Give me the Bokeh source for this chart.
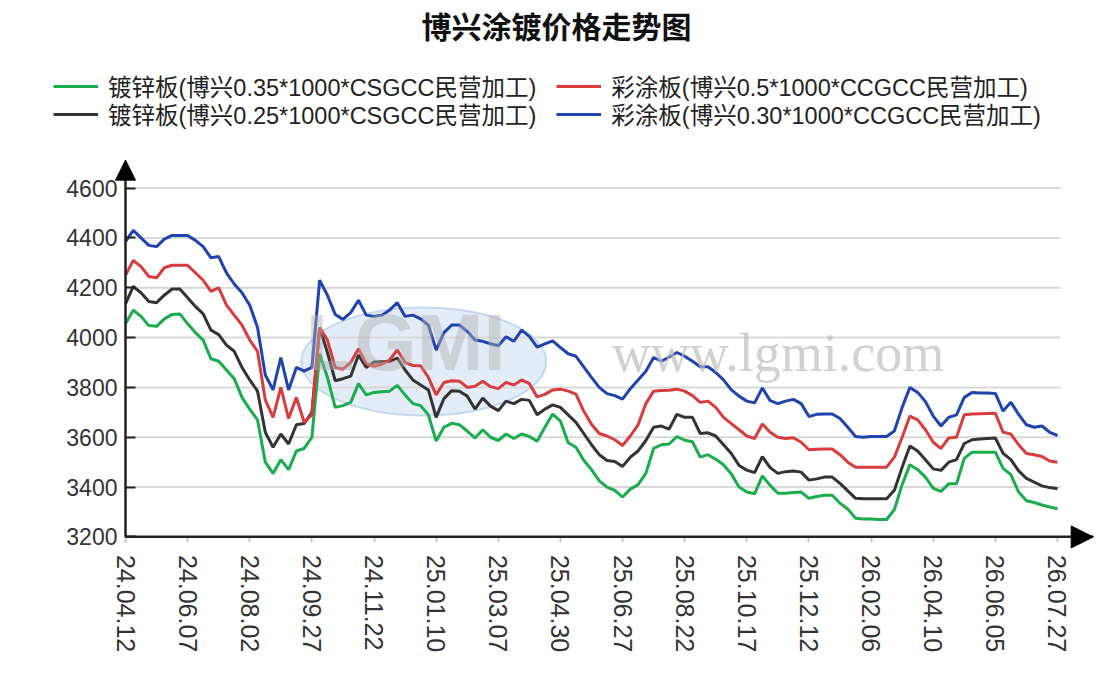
from bokeh.plotting import figure
from bokeh.models import FixedTicker, Legend, LegendItem, Arrow, NormalHead, Label
from bokeh.embed import file_html
from bokeh.resources import INLINE

title_text = "博兴涂镀价格走势图"
series_names = [
    "镀锌板(博兴0.35*1000*CSGCC民营加工)",
    "彩涂板(博兴0.5*1000*CCGCC民营加工)",
    "镀锌板(博兴0.25*1000*CSGCC民营加工)",
    "彩涂板(博兴0.30*1000*CCGCC民营加工)",
]
series_colors = ["#19ad4c", "#d93c3c", "#333333", "#1f44b0"]
tick_labels = ["24.04.12", "24.06.07", "24.08.02", "24.09.27", "24.11.22", "25.01.10",
               "25.03.07", "25.04.30", "25.06.27", "25.08.22", "25.10.17", "25.12.12",
               "26.02.06", "26.04.10", "26.06.05", "26.07.27"]
tick_step = 40      # data points between labelled dates
sample_step = 5     # data points between sampled values
y_ticks = [3200, 3400, 3600, 3800, 4000, 4200, 4400, 4600]

galv_035 = [4055, 4110, 4085, 4048, 4045, 4075, 4093, 4095, 4055, 4020,
            3990, 3915, 3905, 3870, 3835, 3760, 3712, 3670, 3500, 3455,
            3510, 3470, 3545, 3555, 3600, 3935, 3840, 3720, 3727, 3740,
            3815, 3770, 3780, 3783, 3785, 3808, 3770, 3735, 3727, 3690,
            3585, 3640, 3656, 3650, 3625, 3597, 3630, 3600, 3587, 3613,
            3595, 3613, 3603, 3584, 3640, 3693, 3665, 3578, 3560, 3508,
            3470, 3425, 3400, 3387, 3360, 3392, 3410, 3455, 3555, 3570,
            3573, 3603, 3588, 3582, 3520, 3530, 3512, 3490, 3453, 3400,
            3380, 3373, 3445, 3407, 3375, 3375, 3378, 3380, 3355, 3362,
            3367, 3367, 3335, 3312, 3275, 3272, 3272, 3270, 3270, 3310,
            3410, 3490, 3470, 3440, 3395, 3383, 3413, 3413, 3515, 3540,
            3540, 3540, 3540, 3475, 3450, 3380, 3345, 3338, 3328, 3320,
            3313]
galv_025 = [4135, 4205, 4180, 4145, 4140, 4170, 4195, 4195, 4160, 4125,
            4095, 4030, 4012, 3970, 3945, 3880, 3830, 3785, 3620, 3560,
            3613, 3573, 3650, 3655, 3700, 4040, 3940, 3827, 3835, 3845,
            3930, 3880, 3902, 3903, 3904, 3918, 3870, 3830, 3810, 3790,
            3680, 3755, 3787, 3785, 3765, 3713, 3757, 3725, 3707, 3745,
            3735, 3752, 3748, 3690, 3713, 3730, 3720, 3690, 3660, 3615,
            3570, 3530, 3507, 3503, 3483, 3520, 3545, 3587, 3640, 3645,
            3633, 3692, 3680, 3680, 3615, 3618, 3605, 3570, 3535, 3487,
            3468, 3458, 3522, 3478, 3455, 3462, 3465, 3460, 3428, 3433,
            3440, 3440, 3415, 3385, 3355, 3353, 3353, 3353, 3353, 3387,
            3480, 3565, 3545, 3510, 3473, 3467, 3500, 3510, 3575, 3590,
            3593, 3595, 3597, 3535, 3510, 3465, 3435, 3420, 3405, 3398,
            3393]
color_05 = [4250, 4310, 4285, 4245, 4240, 4280, 4290, 4290, 4290, 4260,
            4230, 4185, 4200, 4130, 4090, 4050, 3990, 3945, 3750, 3680,
            3800, 3675, 3760, 3660, 3690, 4040, 3990, 3880, 3873, 3900,
            3955, 3895, 3885, 3893, 3910, 3950, 3900, 3888, 3887, 3840,
            3770, 3820, 3827, 3825, 3800, 3805, 3825, 3803, 3795, 3820,
            3810, 3830, 3815, 3762, 3772, 3790, 3793, 3785, 3773, 3705,
            3652, 3615, 3605, 3590, 3567, 3605, 3650, 3735, 3785, 3788,
            3789, 3793, 3785, 3767, 3740, 3745, 3720, 3680, 3655, 3630,
            3605, 3595, 3653, 3620, 3600, 3595, 3598, 3580, 3550, 3552,
            3553, 3553, 3530, 3500, 3480, 3480, 3480, 3480, 3480, 3520,
            3600, 3685, 3670, 3630, 3580, 3555, 3597, 3600, 3690, 3693,
            3694, 3695, 3696, 3620, 3613, 3570, 3535, 3530, 3523, 3505,
            3500]
color_030 = [4385, 4430, 4400, 4370, 4365, 4395, 4410, 4410, 4410, 4390,
             4365, 4320, 4325, 4260, 4215, 4180, 4130, 4040, 3850, 3790,
             3920, 3790, 3880, 3865, 3880, 4230, 4170, 4093, 4073, 4100,
             4150, 4090, 4085, 4090, 4110, 4140, 4085, 4090, 4075, 4050,
             3950, 4020, 4050, 4050, 4025, 3990, 3985, 3975, 3967, 4003,
             3985, 4030, 4005, 3962, 3975, 3987, 3960, 3935, 3925, 3882,
             3840, 3800, 3775, 3767, 3753, 3795, 3830, 3865, 3920, 3905,
             3922, 3940, 3925, 3905, 3883, 3883, 3860, 3830, 3790, 3765,
             3745, 3738, 3798, 3747, 3735, 3745, 3752, 3735, 3683, 3692,
             3693, 3693, 3675, 3640, 3603, 3600, 3603, 3603, 3603, 3625,
             3720, 3800, 3780, 3743, 3685, 3645, 3680, 3690, 3760, 3780,
             3778, 3778, 3776, 3705, 3740, 3692, 3650, 3640, 3645, 3620,
             3607]

xs = [i * sample_step for i in range(len(galv_035))]
x_last = xs[-1]
y_top = 4712        # end of the value axis (arrow tip)
x_arrow = 623       # end of the category axis (arrow tip)

LATIN_CJK = "'Liberation Sans', 'Noto Sans CJK SC'"

# frame spans nearly the whole canvas; axes are pinned inside it
p = figure(width=1100, height=680, output_backend="svg", toolbar_location=None,
           x_range=(-54.72, 627.7), y_range=(2656, 5168),
           min_border_left=40, min_border_right=0, min_border_top=44, min_border_bottom=8)
p.outline_line_color = None
p.background_fill_color = "white"
p.xgrid.visible = False
p.ygrid.visible = False

p.title.text = title_text
p.title.text_font = "Noto Sans CJK SC"
p.title.text_font_size = "30px"
p.title.text_font_style = "bold"
p.title.text_color = "#111111"
p.title.align = "left"
p.title.offset = 381
p.title.standoff = 0

# watermark
p.ellipse(x=192, y=3904, width=245, height=108, width_units="screen", height_units="screen",
          fill_color="#c9dcf0", fill_alpha=0.5, line_color="#a9c3e3", line_alpha=0.6, line_width=2)
p.add_layout(Label(x=116, y=3800, text="LGMI", text_font="Liberation Sans", text_font_size="80px",
                   text_font_style="bold", text_color="#b0b0b0", text_alpha=0.45))
p.add_layout(Label(x=313, y=3818, text="www.lgmi.com", text_font="Liberation Serif",
                   text_font_size="54px", text_color="#bdbdbd", text_alpha=0.7))

# horizontal grid lines (stop at end of data)
grid_y = y_ticks[1:]
p.segment(x0=[0] * len(grid_y), x1=[x_last + 2] * len(grid_y), y0=grid_y, y1=grid_y,
          line_color="#d9d9d9", line_width=2)

r_green = p.line(xs, galv_035, line_color=series_colors[0], line_width=3)
r_black = p.line(xs, galv_025, line_color=series_colors[2], line_width=3)
r_red = p.line(xs, color_05, line_color=series_colors[1], line_width=3)
r_blue = p.line(xs, color_030, line_color=series_colors[3], line_width=3)
renderers = [r_green, r_red, r_black, r_blue]

# axes
p.xaxis.fixed_location = y_ticks[0]
p.xaxis.bounds = (0, x_arrow)
p.xaxis.ticker = FixedTicker(ticks=[i * tick_step for i in range(len(tick_labels))])
p.xaxis.major_label_overrides = {i * tick_step: lab for i, lab in enumerate(tick_labels)}
p.xaxis.major_label_orientation = "vertical"
p.xaxis.major_label_text_font = "Liberation Sans"
p.xaxis.major_label_text_font_size = "25px"
p.xaxis.major_label_text_color = "#333333"
p.xaxis.major_label_standoff = 12
p.xaxis.major_tick_in = 0
p.xaxis.major_tick_out = 6
p.xaxis.major_tick_line_color = "#c8c8c8"
p.xaxis.major_tick_line_width = 2
p.xaxis.minor_tick_line_color = None
p.xaxis.axis_line_color = "#222222"
p.xaxis.axis_line_width = 2

p.yaxis.fixed_location = 0
p.yaxis.bounds = (y_ticks[0], y_top)
p.yaxis.ticker = FixedTicker(ticks=y_ticks)
p.yaxis.major_label_text_font = "Liberation Sans"
p.yaxis.major_label_text_font_size = "23px"
p.yaxis.major_label_text_color = "#333333"
p.yaxis.major_label_standoff = 8
p.yaxis.major_tick_in = 10
p.yaxis.major_tick_out = 0
p.yaxis.major_tick_line_color = "#222222"
p.yaxis.major_tick_line_width = 2
p.yaxis.minor_tick_line_color = None
p.yaxis.axis_line_color = "#222222"
p.yaxis.axis_line_width = 2

# arrow heads on the axes
p.add_layout(Arrow(end=NormalHead(size=20, fill_color="black", line_color="black"),
                   x_start=0, y_start=y_ticks[0], x_end=0, y_end=y_top,
                   line_color="#222222", line_width=2))
p.add_layout(Arrow(end=NormalHead(size=22, fill_color="black", line_color="black"),
                   x_start=0, y_start=y_ticks[0], x_end=x_arrow, y_end=y_ticks[0],
                   line_color="#222222", line_width=2))


def make_legend(pairs, loc):
    return Legend(items=[LegendItem(label=series_names[i], renderers=[renderers[i]]) for i in pairs],
                  orientation="horizontal", location=loc,
                  label_text_font=LATIN_CJK, label_text_font_size="23.5px",
                  label_text_color="#222222", glyph_width=45, glyph_height=30,
                  label_height=30, label_standoff=10, spacing=20, padding=0, margin=0,
                  border_line_alpha=0, background_fill_alpha=0)


p.add_layout(make_legend([0, 1], (13, 569)))
p.add_layout(make_legend([2, 3], (13, 541)))

open("out.html", "w").write(file_html(p, INLINE))
